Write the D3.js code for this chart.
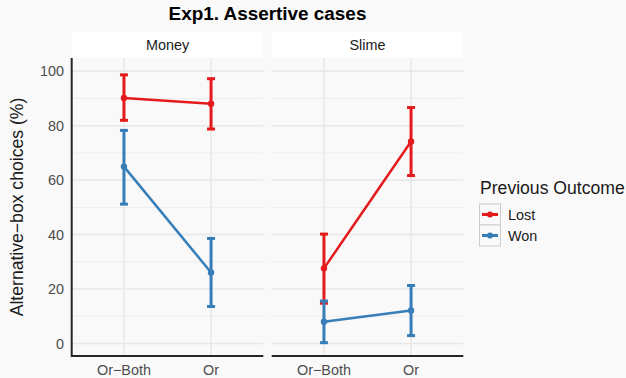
<!DOCTYPE html>
<html>
<head>
<meta charset="utf-8">
<script src="https://cdn.jsdelivr.net/npm/d3@7"></script>
<style>
  body { margin: 0; background: #f9f9f9; }
  text { font-family: "Liberation Sans", Arial, sans-serif; }
</style>
</head>
<body>
<svg id="chart" width="626" height="378"></svg>
<script>
// data
var panels = ['Money', 'Slime']
var conditions = ['Or\u2212Both', 'Or']
var outcomes = ['Lost', 'Won']
var colors = ['#E41A1C', '#377EB8']
var yTicks = [0, 20, 40, 60, 80, 100]

// mean, lower, upper for each panel / outcome, in condition order
var moneyLost = [[90.2, 82.0, 98.7], [88.1, 78.8, 97.3]]
var moneyWon = [[65.0, 51.2, 78.3], [26.1, 13.6, 38.6]]
var slimeLost = [[27.6, 14.8, 40.2], [74.2, 61.7, 86.7]]
var slimeWon = [[8.0, 0.3, 15.6], [12.1, 2.9, 21.3]]

var series = [
  { panel: 'Money', outcome: 'Lost', vals: moneyLost },
  { panel: 'Money', outcome: 'Won', vals: moneyWon },
  { panel: 'Slime', outcome: 'Lost', vals: slimeLost },
  { panel: 'Slime', outcome: 'Won', vals: slimeWon }
]

var svg = d3.select('#chart')

var plotTop = 58, plotBottom = 356
var panelW = 191.6, gap = 8.4, left0 = 71.7

var y = d3.scaleLinear().domain([-4.6, 104.9]).range([plotBottom, plotTop])
var color = d3.scaleOrdinal().domain(outcomes).range(colors)
var px = d3.scaleBand().domain(panels).range([left0, left0 + 2 * panelW + gap]).paddingInner(gap / (panelW + gap))
var x = d3.scalePoint().domain(conditions).range([0, panelW]).padding(0.6)

// title
svg.append('text')
  .attr('x', left0 + panelW + gap / 2).attr('y', 20)
  .attr('text-anchor', 'middle')
  .style('font-size', '18.9px').style('font-weight', 'bold')
  .text('Exp1. Assertive cases')

// y axis label
svg.append('text')
  .attr('transform', 'translate(23,' + (plotTop + plotBottom) / 2 + ') rotate(-90)')
  .attr('text-anchor', 'middle')
  .style('font-size', '17.6px').style('fill', '#1a1a1a')
  .text('Alternative\u2212box choices (%)')

panels.forEach(function (p) {
  var g = svg.append('g').attr('transform', 'translate(' + px(p) + ',0)')
  var w = px.bandwidth()

  // strip
  g.append('rect').attr('x', 0).attr('y', 31.7).attr('width', w).attr('height', 26.5).attr('fill', '#ffffff')
  g.append('text').attr('x', w / 2).attr('y', 50).attr('text-anchor', 'middle')
    .style('font-size', '14.4px').style('fill', '#1a1a1a').text(p)

  // minor grid
  g.selectAll('.minor').data([10, 30, 50, 70, 90]).enter().append('line')
    .attr('x1', 0).attr('x2', w).attr('y1', d => y(d)).attr('y2', d => y(d))
    .attr('stroke', '#ededed').attr('stroke-width', 1)
  // major grid
  g.selectAll('.major').data(yTicks).enter().append('line')
    .attr('x1', 0).attr('x2', w).attr('y1', d => y(d)).attr('y2', d => y(d))
    .attr('stroke', '#e8e8e8').attr('stroke-width', 1.5)
  g.selectAll('.vgrid').data(conditions).enter().append('line')
    .attr('x1', d => x(d)).attr('x2', d => x(d)).attr('y1', plotTop).attr('y2', plotBottom)
    .attr('stroke', '#e8e8e8').attr('stroke-width', 1.5)

  // x axis
  g.append('line').attr('x1', 0).attr('x2', w).attr('y1', plotBottom).attr('y2', plotBottom)
    .attr('stroke', '#262626').attr('stroke-width', 2)
  g.selectAll('.xlab').data(conditions).enter().append('text')
    .attr('x', d => x(d)).attr('y', 375).attr('text-anchor', 'middle')
    .style('font-size', '14.4px').style('fill', '#4d4d4d').text(d => d)

  var sers = series.filter(s => s.panel === p)
  sers.forEach(function (s) {
    var c = color(s.outcome)
    var pts = s.vals.map((v, i) => ({ c: conditions[i], m: v[0], lo: v[1], hi: v[2] }))
    // error bars
    pts.forEach(function (d) {
      g.append('line').attr('x1', x(d.c)).attr('x2', x(d.c)).attr('y1', y(d.lo)).attr('y2', y(d.hi))
        .attr('stroke', c).attr('stroke-width', 3)
      ;[d.lo, d.hi].forEach(function (v) {
        g.append('line').attr('x1', x(d.c) - 4).attr('x2', x(d.c) + 4).attr('y1', y(v)).attr('y2', y(v))
          .attr('stroke', c).attr('stroke-width', 3)
      })
    })
    g.append('path').datum(pts)
      .attr('d', d3.line().x(d => x(d.c)).y(d => y(d.m)))
      .attr('fill', 'none').attr('stroke', c).attr('stroke-width', 2.5)
    g.selectAll(null).data(pts).enter().append('circle')
      .attr('cx', d => x(d.c)).attr('cy', d => y(d.m)).attr('r', 3.2).attr('fill', c)
  })
})

// y axis (first panel only)
svg.append('line').attr('x1', left0).attr('x2', left0).attr('y1', plotTop).attr('y2', plotBottom + 1)
  .attr('stroke', '#262626').attr('stroke-width', 2)
svg.selectAll('.ylab').data(yTicks).enter().append('text')
  .attr('x', 64).attr('y', d => y(d)).attr('dy', '0.35em').attr('text-anchor', 'end')
  .style('font-size', '14.4px').style('fill', '#4d4d4d').text(d => d)

// legend
var lg = svg.append('g').attr('transform', 'translate(479,0)')
lg.append('text').attr('x', 1).attr('y', 194).style('font-size', '17.6px').style('fill', '#1a1a1a').text('Previous Outcome')
outcomes.forEach(function (o, i) {
  var yy = 204 + i * 21
  lg.append('rect').attr('x', 0.5).attr('y', yy).attr('width', 21).attr('height', 21)
    .attr('fill', '#f9f9f9').attr('stroke', '#cccccc').attr('stroke-width', 1)
  lg.append('line').attr('x1', 3).attr('x2', 19).attr('y1', yy + 10.5).attr('y2', yy + 10.5)
    .attr('stroke', color(o)).attr('stroke-width', 3)
  lg.append('circle').attr('cx', 11).attr('cy', yy + 10.5).attr('r', 3).attr('fill', color(o))
  lg.append('text').attr('x', 29).attr('y', yy + 10.5).attr('dy', '0.35em')
    .style('font-size', '14.4px').style('fill', '#1a1a1a').text(o)
})
</script>
</body>
</html>
